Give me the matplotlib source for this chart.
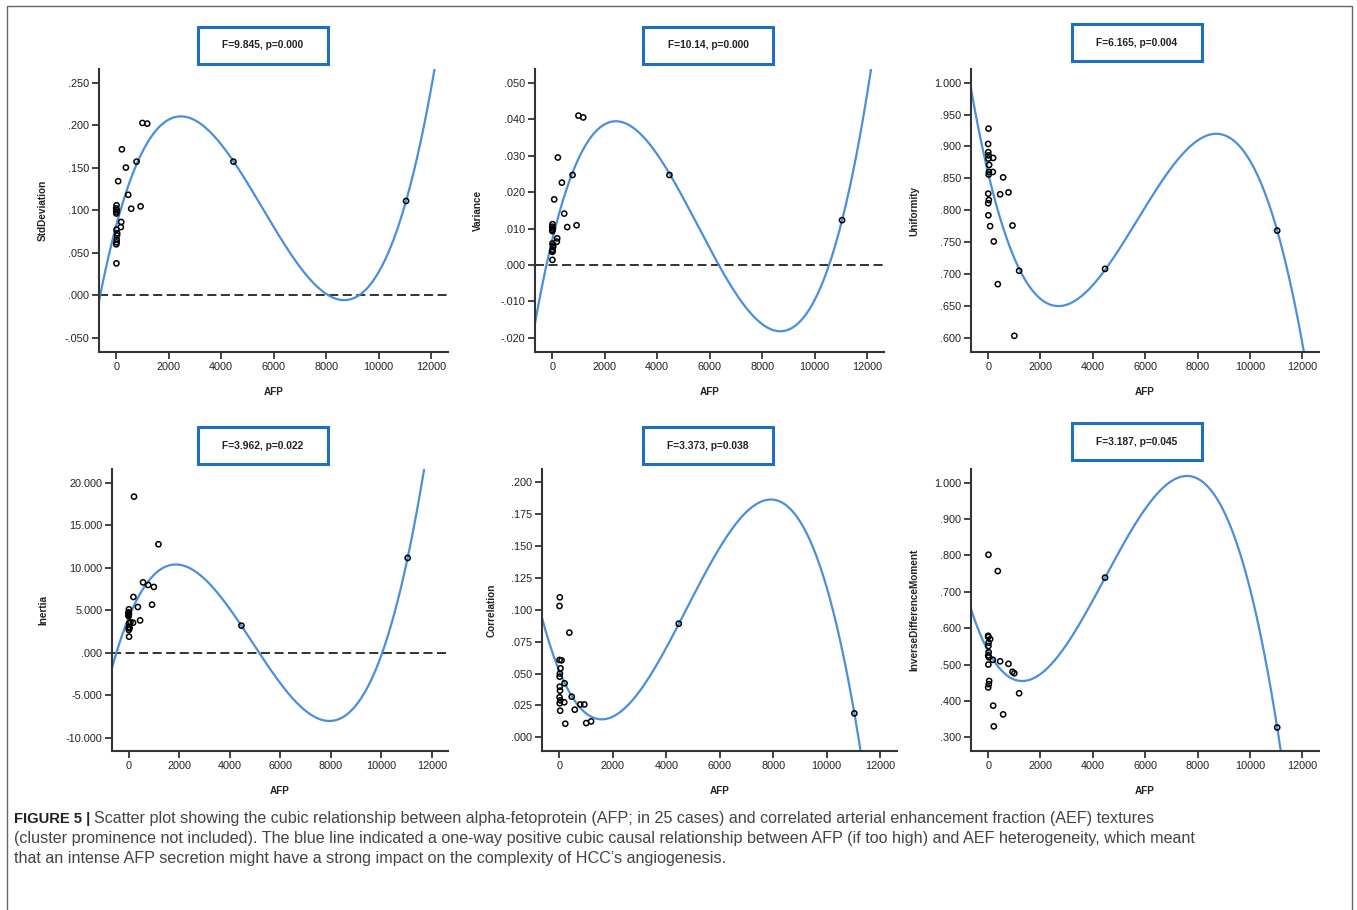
import numpy as np
import matplotlib
matplotlib.use('Agg')
import matplotlib.pyplot as plt
from matplotlib.patches import Rectangle
from matplotlib.lines import Line2D
from matplotlib.ticker import FuncFormatter

plt.rcParams['font.family'] = ['Liberation Sans', 'DejaVu Sans']

W, H = 1357, 910

# 25 cases, values
afp = [1000, 1183, 216, 776, 369, 76, 458, 573, 929, 191, 178, 4466, 11043,
       13, 38, 0, 5, 10, 20, 3, 8, 25, 2, 15, 30]
std_dev = [.2025, .2017, .1715, .157, .150, .134, .118, .1016, .1044, .086, .080, .157, .1107,
           .1056, .0726, .102, .096, .077, .065, .0597, .0373, .100, .098, .062, .070]
variance = [.0410, .0405, .0295, .0247, .0226, .0180, .0141, .0104, .0109, .0073, .0064, .0247, .0123,
            .0112, .0053, .0105, .0093, .0059, .0042, .0036, .0014, .0100, .0096, .0038, .0049]
uniformity = [.603, .705, .751, .828, .684, .775, .825, .8515, .776, .882, .860, .708, .768,
              .928, .871, .904, .891, .881, .856, .826, .792, .816, .811, .886, .860]
inertia = [7.73, 12.75, 18.35, 7.96, 5.37, 3.60, 3.80, 8.27, 5.65, 6.55, 3.53, 3.18, 11.14,
           5.10, 2.86, 4.63, 4.40, 2.67, 1.88, 4.75, 2.95, 3.45, 4.30, 4.55, 3.00]
correlation = [.0112, .0125, .0107, .0258, .0821, .0604, .0319, .0217, .0258, .0424, .0275, .0891, .0188,
               .1098, .0541, .1030, .0476, .0397, .0366, .0314, .0267, .0209, .0607, .0500, .0290]
idm = [.476, .421, .330, .502, .757, .570, .509, .363, .480, .387, .513, .739, .327,
       .802, .455, .579, .576, .551, .534, .525, .500, .446, .437, .560, .520]

labels = ['StdDeviation', 'Variance', 'Uniformity', 'Inertia', 'Correlation', 'InverseDifferenceMoment']
stats = ['F=9.845, p=0.000', 'F=10.14, p=0.000', 'F=6.165, p=0.004',
         'F=3.962, p=0.022', 'F=3.373, p=0.038', 'F=3.187, p=0.045']
series = [std_dev, variance, uniformity, inertia, correlation, idm]

# axes boxes in pixels: left, right, top, bottom
boxes = [(99, 448, 69, 352), (535, 884, 69, 352), (971, 1319, 69, 352),
         (112, 448, 469, 751), (542, 897, 469, 751), (971, 1319, 469, 751)]
ylims = [(-0.067, 0.266), (-0.0239, 0.0538), (0.5776, 1.0215),
         (-11.56, 21.6), (-0.0107, 0.2104), (0.2623, 1.0377)]
ysteps = [0.05, 0.01, 0.05, 5, 0.025, 0.1]
ystarts = [-0.05, -0.02, 0.6, -10, 0.0, 0.3]
zero_line = [True, True, False, True, False, False]
# stat box centres (px)
stat_pos = [(263, 45.5), (708, 45.5), (1137, 42.5), (263, 445.5), (708, 445.5), (1137, 441.5)]
ylab_x = [48, 483, 919, 48, 497, 919]

xlim = (-655, 12640)
blue = '#4a8fdc'
dark = '#222222'


def fmt(v, pos):
    s = '%.3f' % v
    if s.startswith('0.'):
        s = s[1:]
    elif s.startswith('-0.'):
        s = '-' + s[2:]
    if s == '-.000':
        s = '.000'
    return s


fig = plt.figure(figsize=(W / 100, H / 100), dpi=100)
fig.patch.set_facecolor('white')

# outer frame
fig.add_artist(Line2D([7 / W, 7 / W, 1352 / W, 1352 / W], [0, 1 - 6 / H, 1 - 6 / H, 0],
                      transform=fig.transFigure, color='#666666', lw=1.0))

x_arr = np.array(afp, dtype=float)
xx = np.linspace(xlim[0], xlim[1], 600)

for i in range(6):
    l, r, t, b = boxes[i]
    ax = fig.add_axes([l / W, 1 - b / H, (r - l) / W, (b - t) / H])
    y_arr = np.array(series[i], dtype=float)
    # cubic fit, as in the original figure
    coef = np.polyfit(x_arr, y_arr, 3)
    if zero_line[i]:
        ax.axhline(0, color='#222222', lw=1.3, ls=(0, (5, 2.5)), zorder=1)
    ax.plot(xx, np.polyval(coef, xx), color=blue, lw=1.6, zorder=2)
    ax.scatter(x_arr, y_arr, s=14, facecolors='none', edgecolors='black', linewidths=1.1, zorder=3)

    ax.set_xlim(*xlim)
    ax.set_ylim(*ylims[i])
    ax.set_xticks(np.arange(0, 12001, 2000))
    lo = ystarts[i]
    n = int(round((ylims[i][1] - lo) / ysteps[i])) + 1
    ticks = [lo + k * ysteps[i] for k in range(n) if lo + k * ysteps[i] <= ylims[i][1] + 1e-9]
    ax.set_yticks(ticks)
    ax.yaxis.set_major_formatter(FuncFormatter(fmt))
    ax.tick_params(direction='out', length=5, width=1.2, colors=dark, labelsize=7.8, pad=2)
    for sp in ['top', 'right']:
        ax.spines[sp].set_visible(False)
    for sp in ['left', 'bottom']:
        ax.spines[sp].set_linewidth(1.5)
        ax.spines[sp].set_color('#333333')

    ax.set_ylabel(labels[i], fontsize=7.2, fontweight='bold', color=dark)
    ax.yaxis.set_label_coords((ylab_x[i] - l) / (r - l), 0.5)
    ax.set_xlabel('AFP', fontsize=7.2, fontweight='bold', color=dark)
    ax.xaxis.set_label_coords(0.5, -35 / (b - t))

    cx, cy = stat_pos[i]
    bw, bh = 130, 37
    fig.add_artist(Rectangle(((cx - bw / 2) / W, 1 - (cy + bh / 2) / H), bw / W, bh / H,
                             transform=fig.transFigure, facecolor='white',
                             edgecolor='#1f6fc0', lw=2.2))
    fig.text(cx / W, 1 - cy / H, stats[i], ha='center', va='center',
             fontsize=7.4, fontweight='bold', color=dark)

# caption
cap_col = '#444444'
lines = ['Scatter plot showing the cubic relationship between alpha-fetoprotein (AFP; in 25 cases) and correlated arterial enhancement fraction (AEF) textures',
         '(cluster prominence not included). The blue line indicated a one-way positive cubic causal relationship between AFP (if too high) and AEF heterogeneity, which meant',
         'that an intense AFP secretion might have a strong impact on the complexity of HCC\u2019s angiogenesis.']
cap_y = [819, 839, 859]
cap_size = 11.6
head = fig.text(14 / W, 1 - cap_y[0] / H, 'FIGURE 5 |', fontsize=10.6, fontweight='bold',
                color='#222222', va='center', ha='left')
fig.canvas.draw()
bb = head.get_window_extent(renderer=fig.canvas.get_renderer())
fig.text((bb.x1 + 4) / W, 1 - cap_y[0] / H, lines[0], fontsize=cap_size, color=cap_col, va='center', ha='left')
fig.text(14 / W, 1 - cap_y[1] / H, lines[1], fontsize=cap_size, color=cap_col, va='center', ha='left')
fig.text(14 / W, 1 - cap_y[2] / H, lines[2], fontsize=cap_size, color=cap_col, va='center', ha='left')

fig.savefig('out.png', dpi=100, facecolor='white')
